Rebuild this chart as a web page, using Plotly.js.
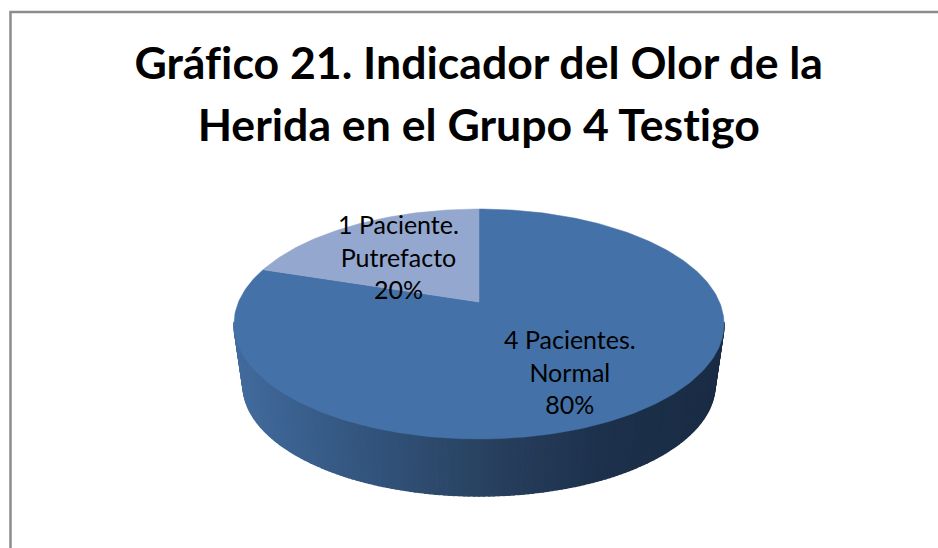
<!DOCTYPE html>
<html><head><meta charset="utf-8">
<script src="https://cdn.plot.ly/plotly-3.0.1.min.js"></script>
<style>html,body{margin:0;padding:0;background:#fff}#c{width:938px;height:548px}
svg text{font-variant-ligatures:none;font-feature-settings:"liga" 0,"clig" 0}</style>
</head><body><div id="c"></div>
<script>
const categories = ['Normal', 'Putrefacto'];
const patients = [4, 1];
const patientWord = ['Pacientes.', 'Paciente.'];
const sliceColors = ['#4472A8', '#93A7CF'];
const labelAnchors = [[570, 371], [398, 256.5]];
const titleLines = ['Gráfico 21. Indicador del Olor de la', 'Herida en el Grupo 4 Testigo'];

// projected pie geometry (pixel-space axes)
const cx = 479, apexY = 302, k = 0.1913, A = -53, B = 240.5, depthScaleX = 0.963, depthScaleY = 111/115, midTop = 324, midBot = 385;
const project = deg => {
  const r = deg*Math.PI/180, u = Math.sin(r), v = Math.cos(r), d = 1 + k*v;
  return [cx + B*u/d, (apexY + A*v)/d];
};
const gradStops = [[234,[66,107,157]],[350,[52,87,129]],[480,[41,66,97]],[600,[29,49,76]],[723,[26,44,68]]];
const gradAt = x => {
  for (let i = 1; i < gradStops.length; i++) {
    if (x <= gradStops[i][0]) {
      const a = gradStops[i-1], b = gradStops[i], t = Math.max(0,(x-a[0])/(b[0]-a[0]));
      return 'rgb(' + a[1].map((c,j)=>Math.round(c+(b[1][j]-c)*t)).join(',') + ')';
    }
  }
  return 'rgb(26,44,68)';
};
const toBottom = p => [cx + (p[0]-cx)*depthScaleX, midBot + (p[1]-midTop)*depthScaleY];

const traces = [];
// side wall strips
const step = 1;
for (let a = 100; a < 260; a += step) {
  const p1 = project(a), p2 = project(a+step), q1 = toBottom(p1), q2 = toBottom(p2);
  const col = gradAt((p1[0]+p2[0])/2);
  traces.push({type:'scatter', mode:'lines', x:[p1[0],p2[0],q2[0],q1[0],p1[0]], y:[p1[1],p2[1],q2[1],q1[1],p1[1]],
    fill:'toself', fillcolor:col, line:{color:col,width:1.5}, hoverinfo:'skip', showlegend:false});
}
// top face slices driven by the values
const total = patients.reduce((s,v)=>s+v,0);
let start = 0;
patients.forEach((val,i)=>{
  const sweep = val/total*360, xs=[cx], ys=[apexY];
  for (let a = start; a <= start+sweep+1e-6; a += 1) { const p = project(a); xs.push(p[0]); ys.push(p[1]); }
  xs.push(cx); ys.push(apexY);
  traces.push({type:'scatter', mode:'lines', x:xs, y:ys, fill:'toself', fillcolor:sliceColors[i],
    line:{color:sliceColors[i],width:0.5}, name:categories[i], showlegend:false, hoverinfo:'name'});
  start += sweep;
});
const annotations = patients.map((val,i)=>({
  x:labelAnchors[i][0], y:labelAnchors[i][1], xref:'x', yref:'y', showarrow:false,
  text: val+' '+patientWord[i]+'<br>'+categories[i]+'<br>'+Math.round(val/total*100)+'%',
  font:{family:'Lato, Carlito, sans-serif', size:25, color:'#000'}, align:'center', xanchor:'center', yanchor:'middle'
}));
const layout = {
  width:938, height:548, margin:{l:0,r:0,t:0,b:0}, paper_bgcolor:'#fff', plot_bgcolor:'#fff', showlegend:false,
  title:{text:titleLines.map(t=>'<span style="font-size:44.6px">'+t+'</span>').join('<br>'),
    font:{family:'Lato, Carlito, sans-serif', size:48, color:'#000', weight:700}, x:0.5104, xanchor:'center', y:0.856, yanchor:'top'},
  xaxis:{range:[0,938], visible:false, fixedrange:true},
  yaxis:{range:[548,0], visible:false, fixedrange:true},
  annotations,
  shapes:[{type:'path', xref:'x', yref:'y', path:'M 10.5 548 L 10.5 12 L 938 12', line:{color:'#8c8c8c', width:2.5}}]
};
Plotly.newPlot('c', traces, layout, {displayModeBar:false, staticPlot:true});
</script></body></html>
